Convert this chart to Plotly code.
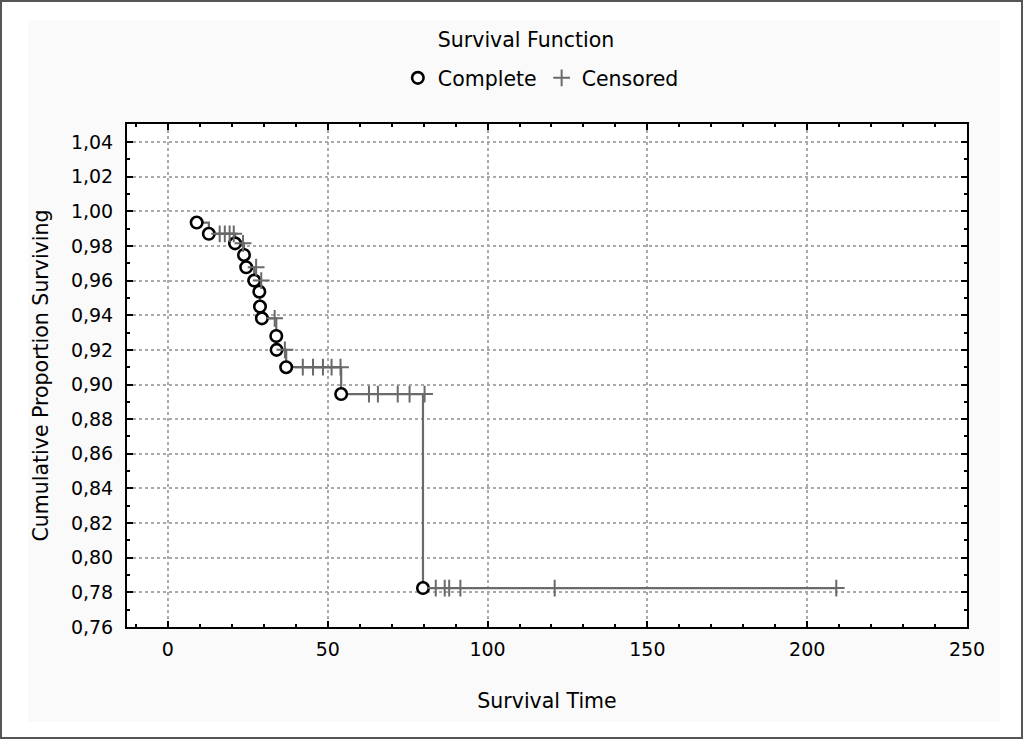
import plotly.graph_objects as go

# Complete (event) times and survival proportions
complete_t = [9, 12.8, 21, 23.8, 24.5, 27, 28.6, 28.8, 29.4, 33.9, 34.0, 37, 54.2, 79.8]
complete_s = [0.9935, 0.987, 0.9815, 0.9748, 0.9677, 0.9600, 0.9536, 0.9450, 0.9382,
              0.9280, 0.9200, 0.9100, 0.8945, 0.7825]

# Censored times and the survival level they sit on
censored_t = [16.2, 17.8, 19.3, 20.6, 23.5, 27.6, 29.2, 33.4, 36.6,
              42.2, 45.4, 48.5, 51.2, 54.0,
              62.9, 65.7, 71.9, 75.6, 80.3,
              83.8, 86.6, 88.0, 91.5, 121.0, 209.1]
censored_s = [0.987, 0.987, 0.987, 0.987, 0.9815, 0.9677, 0.9600, 0.9382, 0.9200,
              0.9100, 0.9100, 0.9100, 0.9100, 0.9100,
              0.8945, 0.8945, 0.8945, 0.8945, 0.8945,
              0.7825, 0.7825, 0.7825, 0.7825, 0.7825, 0.7825]

x_ticks = [0, 50, 100, 150, 200, 250]
y_ticks = [0.76, 0.78, 0.80, 0.82, 0.84, 0.86, 0.88, 0.90, 0.92, 0.94, 0.96, 0.98, 1.00, 1.02, 1.04]

# step line: through events, then extended to the last censored time
line_t = complete_t + [censored_t[-1]]
line_s = complete_s + [complete_s[-1]]

FONT = "DejaVu Sans, Verdana, sans-serif"
GRAY = "#6a6a6a"
W, H = 1023, 739
L, R, T, B = 127, 56, 124, 112
PW, PH = W - L - R, H - T - B


def px_x(x):
    return (x - L) / PW


def px_y(y):
    return (H - B - y) / PH


fig = go.Figure()
fig.add_trace(go.Scatter(x=line_t, y=line_s, mode="lines", line_shape="hv",
                         line=dict(color=GRAY, width=2.2), showlegend=False, hoverinfo="skip"))
fig.add_trace(go.Scatter(x=complete_t, y=complete_s, mode="markers", name="Complete",
                         marker=dict(symbol="circle", size=11.5, color="white",
                                     line=dict(color="black", width=2.6))))
fig.add_trace(go.Scatter(x=censored_t, y=censored_s, mode="markers", name="Censored",
                         marker=dict(symbol="cross-thin", size=12, color=GRAY,
                                     line=dict(color=GRAY, width=2))))

fig.update_layout(
    width=W, height=H,
    margin=dict(l=L, r=R, t=T, b=B),
    paper_bgcolor="white", plot_bgcolor="white",
    font=dict(family=FONT, size=19, color="black"),
    title=dict(text="Survival Function", x=526 / W, xanchor="center",
               y=1 - 40 / H, yanchor="middle", yref="container",
               font=dict(size=20.5, family=FONT, color="black")),
    legend=dict(orientation="h", x=504 / W, xanchor="center", y=1 - 78 / H,
                yanchor="middle", yref="container", bgcolor="rgba(0,0,0,0)",
                font=dict(size=20.5, family=FONT), itemwidth=30),
    hovermode=False,
    shapes=[
        dict(type="rect", xref="paper", yref="paper",
             x0=px_x(28), x1=px_x(1000), y0=px_y(722), y1=px_y(20),
             fillcolor="#fafafa", line=dict(width=0), layer="below"),
        dict(type="rect", xref="paper", yref="paper",
             x0=px_x(1), x1=px_x(1022), y0=px_y(738), y1=px_y(1),
             fillcolor="rgba(0,0,0,0)", line=dict(width=2, color="#555555")),
        dict(type="rect", xref="paper", yref="paper", x0=0, x1=1, y0=0, y1=1,
             fillcolor="white", line=dict(width=0), layer="below"),
    ],
)

fig.update_xaxes(
    range=[-12.8, 250], tickvals=x_ticks, ticktext=[str(v) for v in x_ticks],
    showline=True, linecolor="black", linewidth=2, mirror="allticks",
    ticks="inside", ticklen=6, tickwidth=2, tickcolor="black",
    showgrid=True, gridcolor="#aaaaaa", griddash="dot", gridwidth=1.5,
    zeroline=False, ticklabelstandoff=4,
    minor=dict(dtick=10, tick0=0, ticks="inside", ticklen=3, tickwidth=2,
               tickcolor="black", showgrid=False),
    tickfont=dict(size=19, family=FONT),
    title=dict(text="Survival Time", standoff=35, font=dict(size=20.5, family=FONT)),
)
fig.update_yaxes(
    range=[0.76, 1.0504], tickvals=y_ticks,
    ticktext=[f"{v:.2f}".replace(".", ",") for v in y_ticks],
    showline=True, linecolor="black", linewidth=2, mirror="allticks",
    ticks="inside", ticklen=6, tickwidth=2, tickcolor="black",
    showgrid=True, gridcolor="#aaaaaa", griddash="dot", gridwidth=1.5,
    zeroline=False, ticklabelstandoff=8,
    minor=dict(dtick=0.01, tick0=0.76, ticks="inside", ticklen=3, tickwidth=2,
               tickcolor="black", showgrid=False),
    tickfont=dict(size=19, family=FONT),
    title=dict(text="Cumulative Proportion Surviving", standoff=17,
               font=dict(size=20.5, family=FONT)),
)

fig.write_html("out.html", config={"displayModeBar": False},
               post_script="document.body.style.margin='0px';")
